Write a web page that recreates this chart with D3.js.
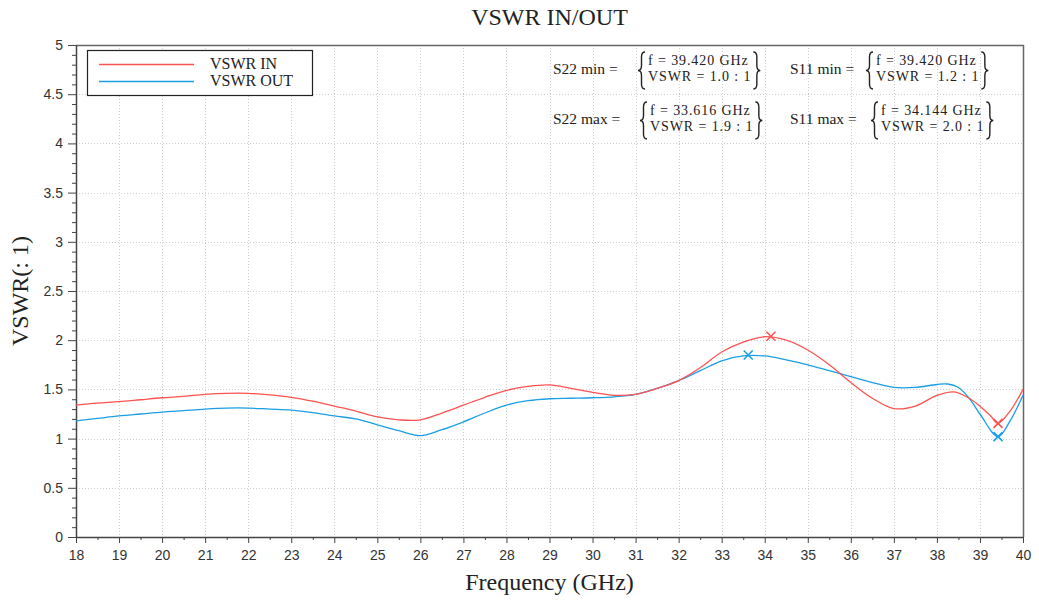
<!DOCTYPE html>
<html>
<head>
<meta charset="utf-8">
<title>VSWR IN/OUT</title>
<script src="https://cdn.jsdelivr.net/npm/d3@7"></script>
<style>
  html, body { margin: 0; padding: 0; background: #ffffff; }
  svg { display: block; }
  .tickText { font-family: "Liberation Sans", Arial, sans-serif; font-size: 14px; fill: #333333; }
  .serifText { font-family: "Liberation Serif", "Times New Roman", serif; fill: #222222; }
</style>
</head>
<body>
<div id="chart_div"></div>
<script>

/*************
 * Chart data *
 *************/

// frequency points (GHz) the curves were read at
var gvFreqIn  = [18, 18.5, 19, 19.5, 20, 20.5, 21, 21.5, 22, 22.5, 23, 23.5, 24, 24.5, 25, 25.5, 26, 26.5,
                 27, 27.5, 28, 28.5, 29, 29.5, 30, 30.5, 31, 31.5, 32, 32.5, 33, 33.5, 34, 34.5, 35, 35.5,
                 36, 36.5, 37, 37.5, 38, 38.4, 38.75, 39, 39.25, 39.42, 39.7, 40];
var gvVswrIn  = [1.34, 1.36, 1.375, 1.395, 1.415, 1.43, 1.45, 1.46, 1.46, 1.445, 1.42, 1.38, 1.33, 1.28, 1.22, 1.19, 1.19, 1.26,
                 1.34, 1.42, 1.49, 1.53, 1.545, 1.51, 1.47, 1.44, 1.45, 1.51, 1.59, 1.72, 1.88, 1.98, 2.035, 2.0, 1.90, 1.75,
                 1.57, 1.41, 1.305, 1.33, 1.44, 1.475, 1.41, 1.33, 1.23, 1.155, 1.28, 1.50];

var gvFreqOut = [18, 18.5, 19, 19.5, 20, 20.5, 21, 21.5, 22, 22.5, 23, 23.5, 24, 24.5, 25, 25.5, 26, 26.5,
                 27, 27.5, 28, 28.5, 29, 29.5, 30, 30.5, 31, 31.5, 32, 32.5, 33, 33.5, 34, 34.5, 35, 35.5,
                 36, 36.5, 37, 37.5, 38, 38.25, 38.5, 38.75, 39, 39.42, 39.7, 40];
var gvVswrOut = [1.18, 1.205, 1.23, 1.25, 1.27, 1.285, 1.30, 1.31, 1.31, 1.30, 1.29, 1.265, 1.23, 1.20, 1.14, 1.08, 1.03, 1.09,
                 1.17, 1.26, 1.34, 1.385, 1.405, 1.41, 1.415, 1.425, 1.45, 1.51, 1.59, 1.69, 1.79, 1.84, 1.84, 1.80, 1.75, 1.69,
                 1.63, 1.57, 1.52, 1.52, 1.55, 1.555, 1.52, 1.41, 1.25, 1.02, 1.18, 1.44];

// min / max markers
var gvMarkFreqIn  = [34.144, 39.42];
var gvMarkVswrIn  = [2.04, 1.155];
var gvMarkFreqOut = [33.616, 39.42];
var gvMarkVswrOut = [1.85, 1.02];

var gvSeriesNames = ['VSWR IN', 'VSWR OUT'];

var gvXTicks = d3.range(18, 41, 1);
var gvYTicks = [0, 0.5, 1, 1.5, 2, 2.5, 3, 3.5, 4, 4.5, 5];

// annotation boxes: label, first line, second line
var gvNoteLabels = ['S22 min =', 'S11 min =', 'S22 max =', 'S11 max ='];
var gvNoteFreq   = ['f = 39.420 GHz', 'f = 39.420 GHz', 'f = 33.616 GHz', 'f = 34.144 GHz'];
var gvNoteVswr   = ['VSWR = 1.0 : 1', 'VSWR = 1.2 : 1', 'VSWR = 1.9 : 1', 'VSWR = 2.0 : 1'];

/********
 * Init *
 ********/

var gvWidth = 1039;
var gvHeight = 600;
var gvMargin = {top: 45, right: 16, bottom: 63, left: 76};
var gvColIn = '#ff5252';
var gvColOut = '#1a9fe4';

(function buildChart() {

  var svg = d3.select('#chart_div')
    .append('svg')
    .attr('width', gvWidth)
    .attr('height', gvHeight);

  var x = d3.scaleLinear()
    .domain([18, 40])
    .range([gvMargin.left, gvWidth - gvMargin.right]);

  var y = d3.scaleLinear()
    .domain([0, 5])
    .range([gvHeight - gvMargin.bottom, gvMargin.top]);

  var x0 = x.range()[0], x1 = x.range()[1];
  var y0 = y.range()[0], y1 = y.range()[1];

  // grid
  var grid = svg.append('g').attr('stroke', '#cfcfcf').attr('stroke-dasharray', '1,2').attr('stroke-width', 1);
  grid.selectAll('.gx')
    .data(gvXTicks.slice(1, -1))
    .enter().append('line')
    .attr('x1', function(d) { return Math.round(x(d)) + 0.5; })
    .attr('x2', function(d) { return Math.round(x(d)) + 0.5; })
    .attr('y1', y1).attr('y2', y0);
  grid.selectAll('.gy')
    .data(gvYTicks.slice(1, -1))
    .enter().append('line')
    .attr('y1', function(d) { return Math.round(y(d)) + 0.5; })
    .attr('y2', function(d) { return Math.round(y(d)) + 0.5; })
    .attr('x1', x0).attr('x2', x1);

  // frame top / right
  svg.append('path')
    .attr('d', 'M' + x0 + ',' + (y1 + 0.5) + 'H' + (x1 + 0.5) + 'V' + y0)
    .attr('fill', 'none')
    .attr('stroke', '#666666')
    .attr('stroke-width', 1.5);

  // minor ticks
  var xMinor = d3.axisBottom(x).tickValues(d3.range(18.5, 40, 1)).tickSize(3).tickFormat('');
  var yMinor = d3.axisLeft(y).tickValues(d3.range(0, 50, 1).filter(function(v) { return v % 5 != 0; }).map(function(v) { return v / 10; }))
    .tickSize(4).tickFormat('');

  svg.append('g').attr('transform', 'translate(0,' + y0 + ')').call(xMinor)
    .call(function(g) { g.select('.domain').remove(); g.selectAll('line').attr('stroke', '#444'); });
  svg.append('g').attr('transform', 'translate(' + x0 + ',0)').call(yMinor)
    .call(function(g) { g.select('.domain').remove(); g.selectAll('line').attr('stroke', '#444'); });

  // major axes
  var xAxis = d3.axisBottom(x).tickValues(gvXTicks).tickSize(6).tickSizeOuter(0).tickPadding(7)
    .tickFormat(d3.format('d'));
  var yAxis = d3.axisLeft(y).tickValues(gvYTicks).tickSize(8).tickSizeOuter(0).tickPadding(5)
    .tickFormat(function(d) { return d % 1 == 0 ? d : d.toFixed(1); });

  svg.append('g').attr('transform', 'translate(0,' + y0 + ')').call(xAxis)
    .call(function(g) {
      g.select('.domain').attr('stroke', '#444').attr('stroke-width', 1.5);
      g.selectAll('line').attr('stroke', '#444');
      g.selectAll('text').attr('class', 'tickText');
    });
  svg.append('g').attr('transform', 'translate(' + x0 + ',0)').call(yAxis)
    .call(function(g) {
      g.select('.domain').attr('stroke', '#444').attr('stroke-width', 1.5);
      g.selectAll('line').attr('stroke', '#444');
      g.selectAll('text').attr('class', 'tickText');
    });

  // curves
  var line = d3.line()
    .x(function(d) { return x(d[0]); })
    .y(function(d) { return y(d[1]); })
    .curve(d3.curveCatmullRom.alpha(0.5));

  var dataIn = d3.zip(gvFreqIn, gvVswrIn);
  var dataOut = d3.zip(gvFreqOut, gvVswrOut);

  svg.append('path').datum(dataOut)
    .attr('d', line).attr('fill', 'none').attr('stroke', gvColOut).attr('stroke-width', 1.3);
  svg.append('path').datum(dataIn)
    .attr('d', line).attr('fill', 'none').attr('stroke', gvColIn).attr('stroke-width', 1.3);

  // markers
  function drawCross(pvData, pvColour) {
    svg.selectAll(null)
      .data(pvData)
      .enter().append('path')
      .attr('d', function(d) {
        var cx = x(d[0]), cy = y(d[1]), s = 4.5;
        return 'M' + (cx - s) + ',' + (cy - s) + 'L' + (cx + s) + ',' + (cy + s) +
               'M' + (cx - s) + ',' + (cy + s) + 'L' + (cx + s) + ',' + (cy - s);
      })
      .attr('stroke', pvColour)
      .attr('stroke-width', 1.6)
      .attr('fill', 'none');
  }
  drawCross(d3.zip(gvMarkFreqIn, gvMarkVswrIn), gvColIn);
  drawCross(d3.zip(gvMarkFreqOut, gvMarkVswrOut), gvColOut);

  // title and axis labels
  svg.append('text').attr('class', 'serifText')
    .attr('x', (x0 + x1) / 2).attr('y', 25)
    .attr('text-anchor', 'middle').style('font-size', '24px')
    .text('VSWR IN/OUT');
  svg.append('text').attr('class', 'serifText')
    .attr('x', (x0 + x1) / 2).attr('y', 590)
    .attr('text-anchor', 'middle').style('font-size', '24px')
    .text('Frequency (GHz)');
  svg.append('text').attr('class', 'serifText')
    .attr('transform', 'translate(28,' + ((y0 + y1) / 2) + ') rotate(-90)')
    .attr('text-anchor', 'middle').style('font-size', '24px')
    .text('VSWR(: 1)');

  // legend
  var legend = svg.append('g');
  legend.append('rect')
    .attr('x', 87.5).attr('y', 50.5).attr('width', 225).attr('height', 45)
    .attr('fill', '#ffffff').attr('stroke', '#222').attr('stroke-width', 1.2);
  var legendCols = [gvColIn, gvColOut];
  gvSeriesNames.forEach(function(name, i) {
    var ly = 64.5 + i * 17;
    legend.append('line')
      .attr('x1', 99).attr('x2', 194).attr('y1', ly).attr('y2', ly)
      .attr('stroke', legendCols[i]).attr('stroke-width', 1.3);
    legend.append('text').attr('class', 'serifText')
      .attr('x', 210).attr('y', ly + 4.5).style('font-size', '16px')
      .text(name);
  });

  // annotations
  function bracePath(pvX, pvTop, pvBot, pvDir) {
    var w = 7 * pvDir, ym = (pvTop + pvBot) / 2, r = 5;
    var xs = pvX + w / 2, xe = pvX + w;
    return 'M' + xe + ',' + pvTop +
      'Q' + xs + ',' + pvTop + ' ' + xs + ',' + (pvTop + r) +
      'L' + xs + ',' + (ym - r) +
      'Q' + xs + ',' + ym + ' ' + pvX + ',' + ym +
      'Q' + xs + ',' + ym + ' ' + xs + ',' + (ym + r) +
      'L' + xs + ',' + (pvBot - r) +
      'Q' + xs + ',' + pvBot + ' ' + xe + ',' + pvBot;
  }

  var noteLabelX = [553, 790, 553, 790];
  var noteBraceX = [638, 866, 640, 871];
  var noteRowY = [70, 70, 120, 120];

  gvNoteLabels.forEach(function(label, i) {
    var g = svg.append('g');
    var c = noteRowY[i];
    g.append('text').attr('class', 'serifText')
      .attr('x', noteLabelX[i]).attr('y', c + 4).style('font-size', '15.5px')
      .text(label);
    g.append('path')
      .attr('d', bracePath(noteBraceX[i], c - 18, c + 19, 1))
      .attr('fill', 'none').attr('stroke', '#222').attr('stroke-width', 1.4);
    var t1 = g.append('text').attr('class', 'serifText')
      .attr('x', noteBraceX[i] + 10).attr('y', c - 5)
      .style('font-size', '14px').style('letter-spacing', '0.9px')
      .text(gvNoteFreq[i]);
    var t2 = g.append('text').attr('class', 'serifText')
      .attr('x', noteBraceX[i] + 10).attr('y', c + 10.5)
      .style('font-size', '14px').style('letter-spacing', '0.9px')
      .text(gvNoteVswr[i]);
    var lvW = Math.max(t1.node().getComputedTextLength(), t2.node().getComputedTextLength());
    g.append('path')
      .attr('d', bracePath(noteBraceX[i] + 10 + lvW + 9, c - 18, c + 19, -1))
      .attr('fill', 'none').attr('stroke', '#222').attr('stroke-width', 1.4);
  });

})();

</script>
</body>
</html>
